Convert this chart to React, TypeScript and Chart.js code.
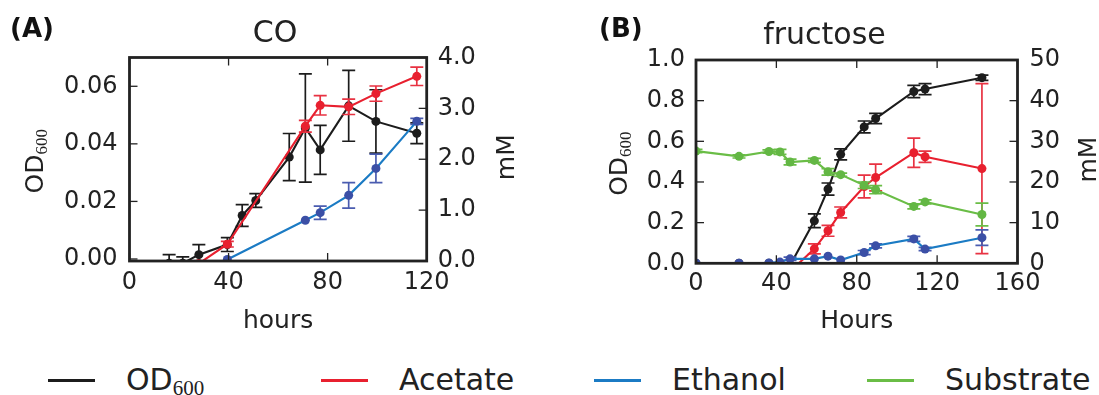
import React, { useEffect, useRef } from "react";
import { Chart, registerables } from "chart.js";
Chart.register(...registerables);

const SANS = '"DejaVu Sans", Arial, sans-serif';
const SERIF = '"Liberation Serif", "DejaVu Serif", serif';
const INK = "#222222";

// ---------- Panel A: CO ----------
const coOdHours = [16, 21.5, 28, 39.5, 45.5, 51, 64.5, 71, 77, 88.5, 99.5, 116];
const coOd = [-0.0015, -0.0015, 0.0015, 0.005, 0.0151, 0.0203, 0.0354, 0.0455, 0.0379, 0.0532, 0.0478, 0.0437];
const coOdErr = [0.003, 0.0022, 0.0035, 0.0024, 0.0038, 0.0024, 0.0082, 0.0188, 0.0085, 0.0123, 0.011, 0.0036];
const coAcetateHours = [28, 39.5, 71, 77, 88.5, 99.5, 116];
const coAcetate = [-0.05, 0.33, 2.65, 3.06, 3.03, 3.29, 3.63];
const coAcetateErr = [0, 0.055, 0.115, 0.19, 0.15, 0.15, 0.18];
const coEthanolHours = [39.5, 71, 77, 88.5, 99.5, 116];
const coEthanol = [0.03, 0.8, 0.95, 1.29, 1.82, 2.745];
const coEthanolErr = [0, 0, 0.13, 0.25, 0.28, 0.06];
const coXTicks = [0, 40, 80, 120];
const coLeftTicks = [0, 0.02, 0.04, 0.06];
const coRightTicks = [0, 1, 2, 3, 4];

// ---------- Panel B: fructose ----------
const fruHours = [0, 21.4, 36.3, 41.8, 46.8, 58.9, 65.7, 72, 83.7, 89.4, 108.4, 114, 142.3];
const fruOd = [0, 0, 0, 0, -0.01, 0.209, 0.365, 0.536, 0.671, 0.712, 0.845, 0.857, 0.913];
const fruOdErr = [0, 0, 0, 0, 0, 0.034, 0.03, 0.027, 0.029, 0.025, 0.03, 0.027, 0.013];
const fruAcetateHours = [46.8, 58.9, 65.7, 72, 83.7, 89.4, 108.4, 114, 142.3];
const fruAcetate = [-2, 3.55, 8.0, 12.5, 18.9, 21.1, 27.2, 26.2, 23.3];
const fruAcetateErr = [0, 1.25, 1.35, 1.35, 2.8, 3.3, 3.6, 1.4, 20.9];
const fruEthanol = [0, 0, 0.1, 0.3, 1.1, 1.1, 1.75, 0.8, 2.65, 4.3, 6.0, 3.5, 6.3];
const fruEthanolErr = [0, 0, 0, 0, 0.4, 0, 0, 0, 0.5, 0.5, 0.6, 0.4, 1.9];
const fruSubstrate = [27.6, 26.3, 27.5, 27.4, 24.9, 25.3, 22.5, 21.8, 19.2, 18.1, 14.0, 15.1, 12.0];
const fruSubstrateErr = [0.4, 0.4, 0.4, 0.6, 0.7, 0.5, 0.8, 0.4, 0.8, 1.0, 0.6, 0.5, 2.8];
const fruXTicks = [0, 40, 80, 120, 160];
const fruLeftTicks = [0, 0.2, 0.4, 0.6, 0.8, 1.0];
const fruRightTicks = [0, 10, 20, 30, 40, 50];

// ---------- Legend ----------
const legendLabels = ["OD", "Acetate", "Ethanol", "Substrate"];

const COLORS = {
  od: { line: "#1c1c1c", point: "#1c1c1c", err: "#1c1c1c" },
  acetate: { line: "#e8202f", point: "#e8202f", err: "#e83242" },
  ethanol: { line: "#1b7bc4", point: "#3b4fa6", err: "#4a5cb0" },
  substrate: { line: "#6abd46", point: "#63b744", err: "#6abd46" },
};
const legendColors = [COLORS.od.line, COLORS.acetate.line, COLORS.ethanol.line, COLORS.substrate.line];

function series(label: string, hours: number[], values: number[], errors: number[], c: any, yAxisID: string, order: number) {
  return {
    label,
    data: hours.map((h, i) => ({ x: h, y: values[i] })),
    errors,
    errColor: c.err,
    borderColor: c.line,
    backgroundColor: c.point,
    pointBackgroundColor: c.point,
    pointBorderColor: c.point,
    pointRadius: 4.5,
    pointBorderWidth: 0,
    pointHoverRadius: 4.5,
    borderWidth: 2.1,
    tension: 0,
    xAxisID: "x",
    yAxisID,
    order,
  };
}

const CAP = 6.5;

function drawOD(ctx: CanvasRenderingContext2D, cx: number, cy: number) {
  ctx.save();
  ctx.translate(cx, cy);
  ctx.rotate(-Math.PI / 2);
  ctx.fillStyle = INK;
  ctx.textBaseline = "alphabetic";
  ctx.textAlign = "left";
  ctx.font = `25px ${SANS}`;
  const w1 = ctx.measureText("OD").width;
  ctx.font = `17px ${SERIF}`;
  const w2 = ctx.measureText("600").width;
  const start = -(w1 + w2) / 2;
  ctx.font = `25px ${SANS}`;
  ctx.fillText("OD", start, 9);
  ctx.font = `17px ${SERIF}`;
  ctx.fillText("600", start + w1, 13);
  ctx.restore();
}

function drawRotated(ctx: CanvasRenderingContext2D, text: string, cx: number, cy: number) {
  ctx.save();
  ctx.translate(cx, cy);
  ctx.rotate(-Math.PI / 2);
  ctx.fillStyle = INK;
  ctx.textBaseline = "alphabetic";
  ctx.textAlign = "center";
  ctx.font = `25px ${SANS}`;
  ctx.fillText(text, 0, 9);
  ctx.restore();
}

function makeDecor(leftTitleX: number, rightTitleX: number, rightTitle: string) {
  return {
    id: "decor",
    beforeDatasetDraw(chart: any, args: any) {
      const ds: any = chart.data.datasets[args.index];
      if (!ds.errors) return;
      const meta = args.meta;
      const xs = chart.scales[meta.xAxisID];
      const ys = chart.scales[meta.yAxisID];
      const ctx: CanvasRenderingContext2D = chart.ctx;
      const a = chart.chartArea;
      ctx.save();
      ctx.beginPath();
      ctx.rect(a.left, a.top, a.right - a.left, a.bottom - a.top);
      ctx.clip();
      ctx.strokeStyle = ds.errColor;
      ctx.lineWidth = 1.7;
      ds.data.forEach((p: any, i: number) => {
        const e = ds.errors[i];
        if (!e) return;
        const x = xs.getPixelForValue(p.x);
        const y1 = ys.getPixelForValue(p.y + e);
        const y2 = ys.getPixelForValue(p.y - e);
        ctx.beginPath();
        ctx.moveTo(x, y1);
        ctx.lineTo(x, y2);
        ctx.moveTo(x - CAP, y1);
        ctx.lineTo(x + CAP, y1);
        ctx.moveTo(x - CAP, y2);
        ctx.lineTo(x + CAP, y2);
        ctx.stroke();
      });
      ctx.restore();
    },
    afterDraw(chart: any) {
      const ctx: CanvasRenderingContext2D = chart.ctx;
      const a = chart.chartArea;
      const TL = 8;
      ctx.save();
      ctx.strokeStyle = INK;
      ctx.lineWidth = 1.3;
      const xs = chart.scales.x;
      xs.ticks.forEach((t: any) => {
        const x = xs.getPixelForValue(t.value);
        ctx.beginPath();
        ctx.moveTo(x, a.bottom);
        ctx.lineTo(x, a.bottom - TL);
        ctx.moveTo(x, a.top);
        ctx.lineTo(x, a.top + TL);
        ctx.stroke();
      });
      const yl = chart.scales.yL;
      yl.ticks.forEach((t: any) => {
        const y = yl.getPixelForValue(t.value);
        ctx.beginPath();
        ctx.moveTo(a.left, y);
        ctx.lineTo(a.left + TL, y);
        ctx.stroke();
      });
      const yr = chart.scales.yR;
      yr.ticks.forEach((t: any) => {
        const y = yr.getPixelForValue(t.value);
        ctx.beginPath();
        ctx.moveTo(a.right, y);
        ctx.lineTo(a.right - TL, y);
        ctx.stroke();
      });
      ctx.lineWidth = 2.8;
      ctx.strokeRect(a.left, a.top, a.right - a.left, a.bottom - a.top);
      ctx.restore();
      const cy = (a.top + a.bottom) / 2;
      drawOD(chart.ctx, leftTitleX, cy + 2);
      drawRotated(chart.ctx, rightTitle, rightTitleX, cy - 2);
    },
  };
}

type PanelCfg = {
  title: string;
  titlePad: { top: number; bottom: number };
  xTitle: string;
  xMax: number;
  xTicks: number[];
  xPad: number;
  leftMin: number;
  leftMax: number;
  leftTicks: number[];
  leftDec: number;
  leftPad: number;
  rightMax: number;
  rightTicks: number[];
  rightDec: number;
  rightPad: number;
  width: number;
  height: number;
  leftW: number;
  rightW: number;
  xH: number;
  leftTitleX: number;
  rightTitleX: number;
  datasets: any[];
};

const tickFont = { size: 24, family: SANS };

function buildConfig(p: PanelCfg): any {
  return {
    type: "line",
    data: { datasets: p.datasets },
    plugins: [makeDecor(p.leftTitleX, p.rightTitleX, "mM")],
    options: {
      responsive: false,
      maintainAspectRatio: false,
      animation: false,
      layout: { padding: 0, autoPadding: false },
      plugins: {
        legend: { display: false },
        tooltip: { enabled: false },
        title: {
          display: true,
          text: p.title,
          color: INK,
          font: { size: 30, family: SANS, weight: "normal" },
          padding: p.titlePad,
        },
      },
      scales: {
        x: {
          type: "linear",
          position: "bottom",
          min: 0,
          max: p.xMax,
          grid: { display: false, drawTicks: false },
          border: { display: false },
          afterBuildTicks: (ax: any) => {
            ax.ticks = p.xTicks.map((v) => ({ value: v }));
          },
          afterFit: (ax: any) => {
            ax.height = p.xH;
          },
          ticks: {
            font: tickFont,
            color: INK,
            padding: p.xPad,
            autoSkip: false,
            maxRotation: 0,
            callback: (v: any) => String(v),
          },
          title: {
            display: true,
            text: p.xTitle,
            color: INK,
            font: { size: 25, family: SANS },
            padding: { top: 0, bottom: 9 },
          },
        },
        yL: {
          type: "linear",
          position: "left",
          min: p.leftMin,
          max: p.leftMax,
          grid: { display: false, drawTicks: false },
          border: { display: false },
          afterBuildTicks: (ax: any) => {
            ax.ticks = p.leftTicks.map((v) => ({ value: v }));
          },
          afterFit: (ax: any) => {
            ax.width = p.leftW;
          },
          ticks: {
            font: tickFont,
            color: INK,
            padding: p.leftPad,
            callback: (v: any) => Number(v).toFixed(p.leftDec),
          },
        },
        yR: {
          type: "linear",
          position: "right",
          min: 0,
          max: p.rightMax,
          grid: { display: false, drawTicks: false },
          border: { display: false },
          afterBuildTicks: (ax: any) => {
            ax.ticks = p.rightTicks.map((v) => ({ value: v }));
          },
          afterFit: (ax: any) => {
            ax.width = p.rightW;
          },
          ticks: {
            font: tickFont,
            color: INK,
            padding: p.rightPad,
            callback: (v: any) => Number(v).toFixed(p.rightDec),
          },
        },
      },
    },
  };
}

const panelA: PanelCfg = {
  title: "CO",
  titlePad: { top: 16.6, bottom: 4.9 },
  xTitle: "hours",
  xMax: 120,
  xTicks: coXTicks,
  xPad: 7.6,
  leftMin: -0.0007,
  leftMax: 0.07,
  leftTicks: coLeftTicks,
  leftDec: 2,
  leftPad: 12,
  rightMax: 4,
  rightTicks: coRightTicks,
  rightDec: 1,
  rightPad: 11,
  width: 550,
  height: 345,
  leftW: 129.5,
  rightW: 123.3,
  xH: 84,
  leftTitleX: 34,
  rightTitleX: 505,
  datasets: [
    series("OD600", coOdHours, coOd, coOdErr, COLORS.od, "yL", 4),
    series("Acetate", coAcetateHours, coAcetate, coAcetateErr, COLORS.acetate, "yR", 3),
    series("Ethanol", coEthanolHours, coEthanol, coEthanolErr, COLORS.ethanol, "yR", 2),
  ],
};

const panelB: PanelCfg = {
  title: "fructose",
  titlePad: { top: 18.3, bottom: 5.7 },
  xTitle: "Hours",
  xMax: 160,
  xTicks: fruXTicks,
  xPad: 6,
  leftMin: 0,
  leftMax: 1,
  leftTicks: fruLeftTicks,
  leftDec: 1,
  leftPad: 11,
  rightMax: 50,
  rightTicks: fruRightTicks,
  rightDec: 0,
  rightPad: 12,
  width: 549,
  height: 345,
  leftW: 146,
  rightW: 81.5,
  xH: 81.7,
  leftTitleX: 68,
  rightTitleX: 537,
  datasets: [
    series("OD600", fruHours, fruOd, fruOdErr, COLORS.od, "yL", 4),
    series("Acetate", fruAcetateHours, fruAcetate, fruAcetateErr, COLORS.acetate, "yR", 3),
    series("Ethanol", fruHours, fruEthanol, fruEthanolErr, COLORS.ethanol, "yR", 2),
    series("Substrate", fruHours, fruSubstrate, fruSubstrateErr, COLORS.substrate, "yR", 1),
  ],
};

function Panel({ cfg, left }: { cfg: PanelCfg; left: number }) {
  const ref = useRef<HTMLCanvasElement>(null);
  useEffect(() => {
    const chart = new Chart(ref.current as HTMLCanvasElement, buildConfig(cfg));
    return () => chart.destroy();
  }, [cfg]);
  return (
    <canvas
      ref={ref}
      width={cfg.width}
      height={cfg.height}
      style={{ position: "absolute", left, top: 0, width: cfg.width, height: cfg.height }}
    />
  );
}

const panelLabelStyle: React.CSSProperties = {
  position: "absolute",
  top: 15,
  font: `bold 26px ${SANS}`,
  lineHeight: "26px",
  color: "#111",
  whiteSpace: "nowrap",
};

export default function App() {
  return (
    <div style={{ position: "absolute", left: 0, top: 0, width: 1099, height: 395, background: "#fff", overflow: "hidden" }}>
      <Panel cfg={panelA} left={0} />
      <Panel cfg={panelB} left={550} />
      <div style={{ ...panelLabelStyle, left: 10 }}>(A)</div>
      <div style={{ ...panelLabelStyle, left: 599 }}>(B)</div>
      {legendLabels.map((label, i) => (
        <div key={label}>
          <div
            style={{
              position: "absolute",
              left: 48 + 273 * i,
              top: 379,
              width: 47,
              height: 2.5,
              background: legendColors[i],
            }}
          />
          <div
            style={{
              position: "absolute",
              left: 48 + 273 * i + 78,
              top: 365,
              font: `30px ${SANS}`,
              lineHeight: "30px",
              color: INK,
              whiteSpace: "nowrap",
            }}
          >
            {label}
            {i === 0 ? (
              <span style={{ font: `21px ${SERIF}`, position: "relative", top: 5 }}>600</span>
            ) : null}
          </div>
        </div>
      ))}
    </div>
  );
}
